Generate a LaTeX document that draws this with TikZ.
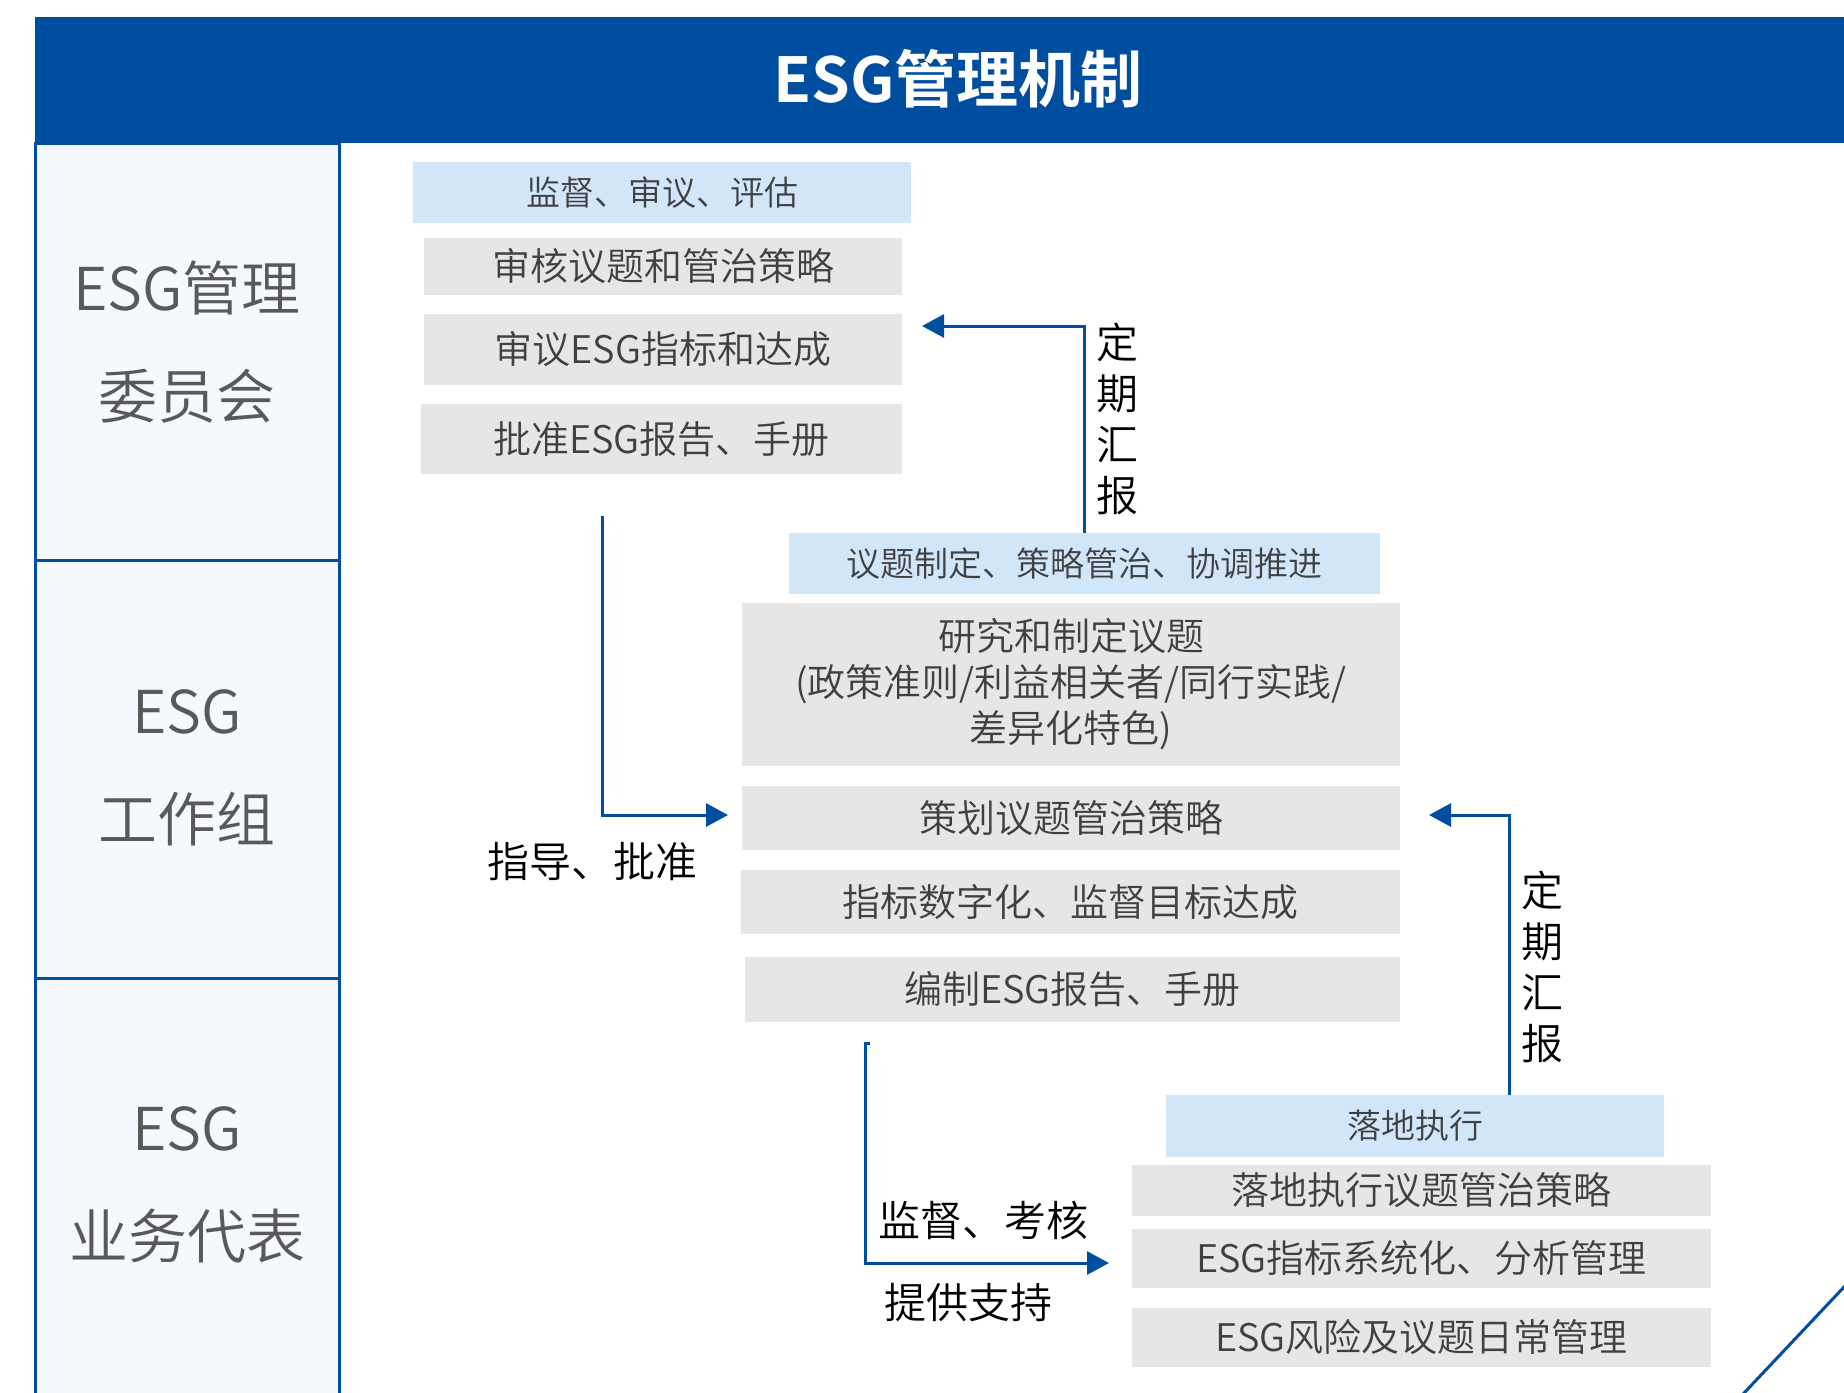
\documentclass[tikz,border=0pt]{standalone}
\usepackage{fontspec}
\setmainfont{Noto Sans CJK SC}[UprightFont={* DemiLight}, BoldFont={* Bold}]
\usetikzlibrary{arrows.meta}
\definecolor{esgblue}{RGB}{0,78,160}
\definecolor{lightblue}{RGB}{210,230,250}
\definecolor{boxgrey}{RGB}{230,230,230}
\definecolor{colfill}{RGB}{245,249,253}
\definecolor{txtgrey}{RGB}{64,64,64}
\definecolor{coltxt}{RGB}{89,89,89}
\begin{document}
\begin{tikzpicture}[x=1pt,y=-1pt,
  cell/.style={draw=esgblue, line width=3pt, fill=colfill, minimum width=304pt, inner sep=0pt},
  hdr/.style={fill=lightblue, inner sep=0pt, text=txtgrey, font=\fontsize{34}{40}\selectfont},
  gbox/.style={fill=boxgrey, inner sep=0pt, text=txtgrey, font=\fontsize{38}{46}\selectfont, align=center},
  conn/.style={draw=esgblue, line width=3pt, line join=miter, -{Triangle[length=22pt,width=23pt]}},
  lbl/.style={text=black, font=\fontsize{42}{51}\selectfont, inner sep=0pt, align=center},
  coltext/.style={text=coltxt, font=\fontsize{59}{108}\selectfont, align=center, inner sep=0pt},
]
\useasboundingbox (0,0) rectangle (1844,1392);
% header bar
\node[fill=esgblue, minimum width=1809pt, minimum height=126pt, inner sep=0pt] (bar) at (939.5,80) {};
\node[text=white, inner sep=0pt, font=\fontsize{62}{70}\selectfont\bfseries] (title) at (958,79) {ESG管理机制};
% left column
\node[cell, minimum height=417pt] (c1) at (187,351.5) {};
\node[cell, minimum height=418pt] (c2) at (187,769) {};
\node[cell, minimum height=424pt] (c3) at (187,1190) {};
\node[coltext] (t1) at (187,342.5) {ESG管理\\委员会};
\node[coltext] (t2) at (187,767.5) {ESG\\工作组};
\node[coltext] (t3) at (187,1184.5) {ESG\\业务代表};
% committee
\node[hdr, minimum width=498pt, minimum height=61pt] (h1) at (662,192.5) {监督、审议、评估};
\node[gbox, minimum width=478pt, minimum height=57pt] (b1) at (663,266.5) {审核议题和管治策略};
\node[gbox, minimum width=478pt, minimum height=71pt] (b2) at (663,349.5) {审议ESG指标和达成};
\node[gbox, minimum width=481pt, minimum height=70pt] (b3) at (661.5,439) {批准ESG报告、手册};
% working group
\node[hdr, minimum width=591pt, minimum height=61pt] (h2) at (1084.5,563.5) {议题制定、策略管治、协调推进};
\node[gbox, minimum width=658pt, minimum height=163pt] (b4) at (1071,684.5) {研究和制定议题\\(政策准则/利益相关者/同行实践/\\差异化特色)};
\node[gbox, minimum width=658pt, minimum height=64pt] (b5) at (1071,818) {策划议题管治策略};
\node[gbox, minimum width=659pt, minimum height=64pt] (b6) at (1070.5,902) {指标数字化、监督目标达成};
\node[gbox, minimum width=655pt, minimum height=65pt] (b7) at (1072.5,989.5) {编制ESG报告、手册};
% business representatives
\node[hdr, minimum width=498pt, minimum height=62pt] (h3) at (1415,1126) {落地执行};
\node[gbox, minimum width=579pt, minimum height=51pt] (b8) at (1421.5,1190.5) {落地执行议题管治策略};
\node[gbox, minimum width=579pt, minimum height=59pt] (b9) at (1421.5,1258.5) {ESG指标系统化、分析管理};
\node[gbox, minimum width=579pt, minimum height=59pt] (b10) at (1421.5,1337.5) {ESG风险及议题日常管理};
% connectors
\coordinate (a1end) at (922,326);
\draw[conn] (h2.north) |- (a1end);
\node[lbl] (l1) at (1117,418.5) {定\\期\\汇\\报};
\coordinate (a2start) at (602,516);
\coordinate (a2end) at (728,815);
\draw[conn] (a2start) |- (a2end);
\node[lbl] (l2) at (592,862) {指导、批准};
\coordinate (a3end) at (1429,815);
\draw[conn] ([xshift=94pt]h3.north) |- (a3end);
\node[lbl] (l3) at (1542,966.5) {定\\期\\汇\\报};
\coordinate (a4tick) at (870,1043);
\coordinate (a4start) at (865,1043);
\coordinate (a4end) at (1109,1263);
\draw[conn] (a4tick) -- (a4start) |- (a4end);
\node[lbl] (l4) at (983,1220) {监督、考核};
\node[lbl] (l5) at (968,1303) {提供支持};
% decorative diagonal
\coordinate (d1) at (1740,1397.3);
\coordinate (d2) at (1849,1281.7);
\draw[esgblue, line width=3pt] (d1) -- (d2);
\end{tikzpicture}
\end{document}
